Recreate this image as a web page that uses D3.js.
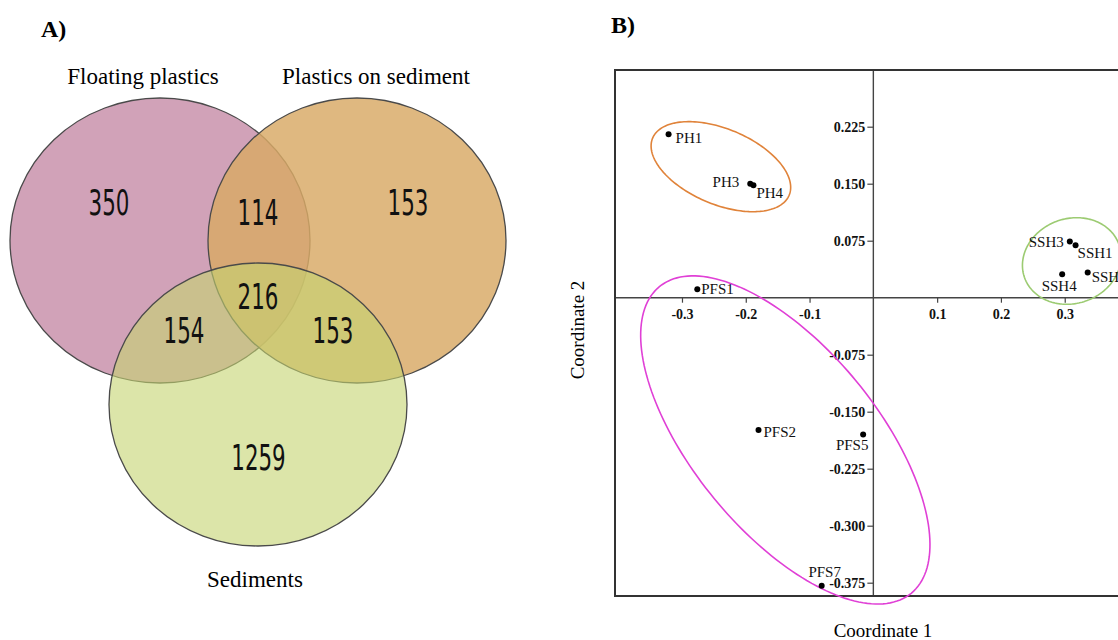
<!DOCTYPE html>
<html>
<head>
<meta charset="utf-8">
<script src="https://cdn.jsdelivr.net/npm/d3@7/dist/d3.min.js"></script>
<style>
  html, body { margin: 0; padding: 0; background: #fff; }
  svg { display: block; }
</style>
</head>
<body>
<svg id="fig" width="1118" height="640"></svg>
<script>
// ---------- Panel A: shared OTUs between sample types ----------
const setNames = ["Floating plastics", "Plastics on sediment", "Sediments"];
const setColors = ["#d1a2b8", "#d8a966", "#c5d36f"];
const setOpacity = [1, 0.83, 0.6];
// region counts: only F, only P, only S, F∩P, F∩S, P∩S, F∩P∩S
const regionKeys = ["F", "P", "S", "FP", "FS", "PS", "FPS"];
const regionCounts = [350, 153, 1259, 114, 154, 153, 216];

// ---------- Panel B: PCoA ordination ----------
const sampleNames = ["PH1", "PH3", "PH4", "PFS1", "SSH3", "SSH1", "SSH4", "SSH2", "PFS2", "PFS5", "PFS7"];
const coord1 = [-0.321, -0.193, -0.188, -0.276, 0.308, 0.317, 0.296, 0.336, -0.180, -0.016, -0.081];
const coord2 = [0.215, 0.150, 0.148, 0.011, 0.074, 0.069, 0.031, 0.033, -0.174, -0.180, -0.379];
const xTicks = [-0.3, -0.2, -0.1, 0.1, 0.2, 0.3];
const yTicks = [0.225, 0.150, 0.075, -0.075, -0.150, -0.225, -0.300, -0.375];
// group ellipses: centre and two conjugate half-axis vectors in ordination units
const groupNames = ["PH", "SSH", "PFS"];
const groupColors = ["#e0833a", "#9ccb72", "#e040d6"];
const ellCx = [-0.239, 0.311, -0.138];
const ellCy = [0.1724, 0.0483, -0.1872];
const ellU = [[0.107, -0.0376], [0.0742, 0.0214], [0.1974, -0.2017]];
const ellV = [[-0.0228, -0.0458], [0.0216, -0.0528], [-0.1116, -0.0770]];

const svg = d3.select("#fig");
const serif = "'Liberation Serif', 'Times New Roman', serif";

// ===== Panel A =====
const gA = svg.append("g");
gA.append("text").attr("x", 41).attr("y", 37)
  .attr("font-family", serif).attr("font-weight", "bold").attr("font-size", 24)
  .text("A)");

const circles = [
  { cx: 160, cy: 240.5, rx: 150, ry: 142.5 },
  { cx: 357, cy: 240.5, rx: 149, ry: 142.5 },
  { cx: 258, cy: 404.5, rx: 149, ry: 141.5 }
];
gA.selectAll("ellipse.set").data(circles).join("ellipse")
  .attr("class", "set")
  .attr("cx", d => d.cx).attr("cy", d => d.cy)
  .attr("rx", d => d.rx).attr("ry", d => d.ry)
  .attr("fill", (d, i) => setColors[i])
  .attr("fill-opacity", (d, i) => setOpacity[i])
  .attr("stroke", "#4a4a4a").attr("stroke-width", 1.3);

const setLabelPos = [[143, 84], [376, 84], [255, 587]];
gA.selectAll("text.setname").data(setNames).join("text")
  .attr("class", "setname")
  .attr("x", (d, i) => setLabelPos[i][0]).attr("y", (d, i) => setLabelPos[i][1])
  .attr("text-anchor", "middle")
  .attr("font-family", serif).attr("font-size", 23)
  .text(d => d);

const regionPos = { F: [109, 215], P: [408, 215], S: [258.5, 470], FP: [258, 225], FS: [184, 343], PS: [333, 343], FPS: [258, 309] };
gA.selectAll("text.count").data(regionKeys).join("text")
  .attr("class", "count")
  .attr("transform", d => `translate(${regionPos[d][0]},${regionPos[d][1]}) scale(0.66,1)`)
  .attr("text-anchor", "middle")
  .attr("font-family", "'Liberation Sans Narrow', 'DejaVu Sans Condensed', sans-serif")
  .attr("font-size", 36)
  .attr("fill", "#111")
  .text((d, i) => regionCounts[i]);

// ===== Panel B =====
const gB = svg.append("g");
gB.append("text").attr("x", 611).attr("y", 33)
  .attr("font-family", serif).attr("font-weight", "bold").attr("font-size", 24)
  .text("B)");

const x = d3.scaleLinear().domain([-0.405, 0.405]).range([615, 1131.7]);
const y = d3.scaleLinear().domain([-0.3925, 0.2996]).range([596, 70]);

// zero lines
gB.append("line").attr("x1", x.range()[0]).attr("x2", x.range()[1])
  .attr("y1", y(0)).attr("y2", y(0)).attr("stroke", "#444").attr("stroke-width", 1.4);
gB.append("line").attr("x1", x(0)).attr("x2", x(0))
  .attr("y1", y.range()[0]).attr("y2", y.range()[1]).attr("stroke", "#444").attr("stroke-width", 1.4);

// axes through the origin
const xAxis = d3.axisBottom(x).tickValues(xTicks).tickSize(5).tickPadding(6)
  .tickFormat(d => d.toFixed(1));
const gx = gB.append("g").attr("transform", `translate(0,${y(0)})`).call(xAxis);
const yAxis = d3.axisLeft(y).tickValues(yTicks).tickSize(6).tickPadding(2)
  .tickFormat(d => d.toFixed(3));
const gy = gB.append("g").attr("transform", `translate(${x(0)},0)`).call(yAxis);
[gx, gy].forEach(g => {
  g.select(".domain").remove();
  g.selectAll(".tick line").attr("stroke", "#444").attr("stroke-width", 1.2);
  g.selectAll(".tick text").attr("font-family", serif).attr("font-size", 14)
    .attr("font-weight", "bold").attr("fill", "#111");
});

// frame
gB.append("rect")
  .attr("x", x.range()[0]).attr("y", y.range()[1])
  .attr("width", x.range()[1] - x.range()[0]).attr("height", y.range()[0] - y.range()[1])
  .attr("fill", "none").attr("stroke", "#333").attr("stroke-width", 2);

// group ellipses traced through the scales
const ellLine = d3.line().curve(d3.curveLinearClosed);
groupNames.forEach((g, i) => {
  const pts = d3.range(0, 360, 2).map(deg => {
    const t = deg * Math.PI / 180;
    const dx = ellCx[i] + ellU[i][0] * Math.cos(t) + ellV[i][0] * Math.sin(t);
    const dy = ellCy[i] + ellU[i][1] * Math.cos(t) + ellV[i][1] * Math.sin(t);
    return [x(dx), y(dy)];
  });
  gB.append("path").attr("d", ellLine(pts))
    .attr("fill", "none").attr("stroke", groupColors[i]).attr("stroke-width", 1.6);
});

// samples
const samples = sampleNames.map((n, i) => ({ name: n, c1: coord1[i], c2: coord2[i] }));
gB.selectAll("circle.pt").data(samples).join("circle")
  .attr("class", "pt")
  .attr("cx", d => x(d.c1)).attr("cy", d => y(d.c2)).attr("r", 3)
  .attr("fill", "#000");

const labelOffsets = {
  PH1: [7, 9, "start"], PH3: [-11, 3, "end"], PH4: [3, 13, "start"], PFS1: [4, 5, "start"],
  SSH3: [-6, 6, "end"], SSH1: [2, 13, "start"], SSH4: [-3, 17, "middle"], SSH2: [4, 9, "start"],
  PFS2: [5, 7, "start"], PFS5: [-11, 16, "middle"], PFS7: [3, -9, "middle"]
};
gB.selectAll("text.ptlabel").data(samples).join("text")
  .attr("class", "ptlabel")
  .attr("x", d => x(d.c1) + labelOffsets[d.name][0])
  .attr("y", d => y(d.c2) + labelOffsets[d.name][1])
  .attr("text-anchor", d => labelOffsets[d.name][2])
  .attr("font-family", serif).attr("font-size", 15).attr("fill", "#111")
  .text(d => d.name);

// axis titles
gB.append("text").attr("x", 883).attr("y", 637).attr("text-anchor", "middle")
  .attr("font-family", serif).attr("font-size", 19).text("Coordinate 1");
gB.append("text").attr("transform", "translate(584,330) rotate(-90)").attr("text-anchor", "middle")
  .attr("font-family", serif).attr("font-size", 19).text("Coordinate 2");
</script>
</body>
</html>
